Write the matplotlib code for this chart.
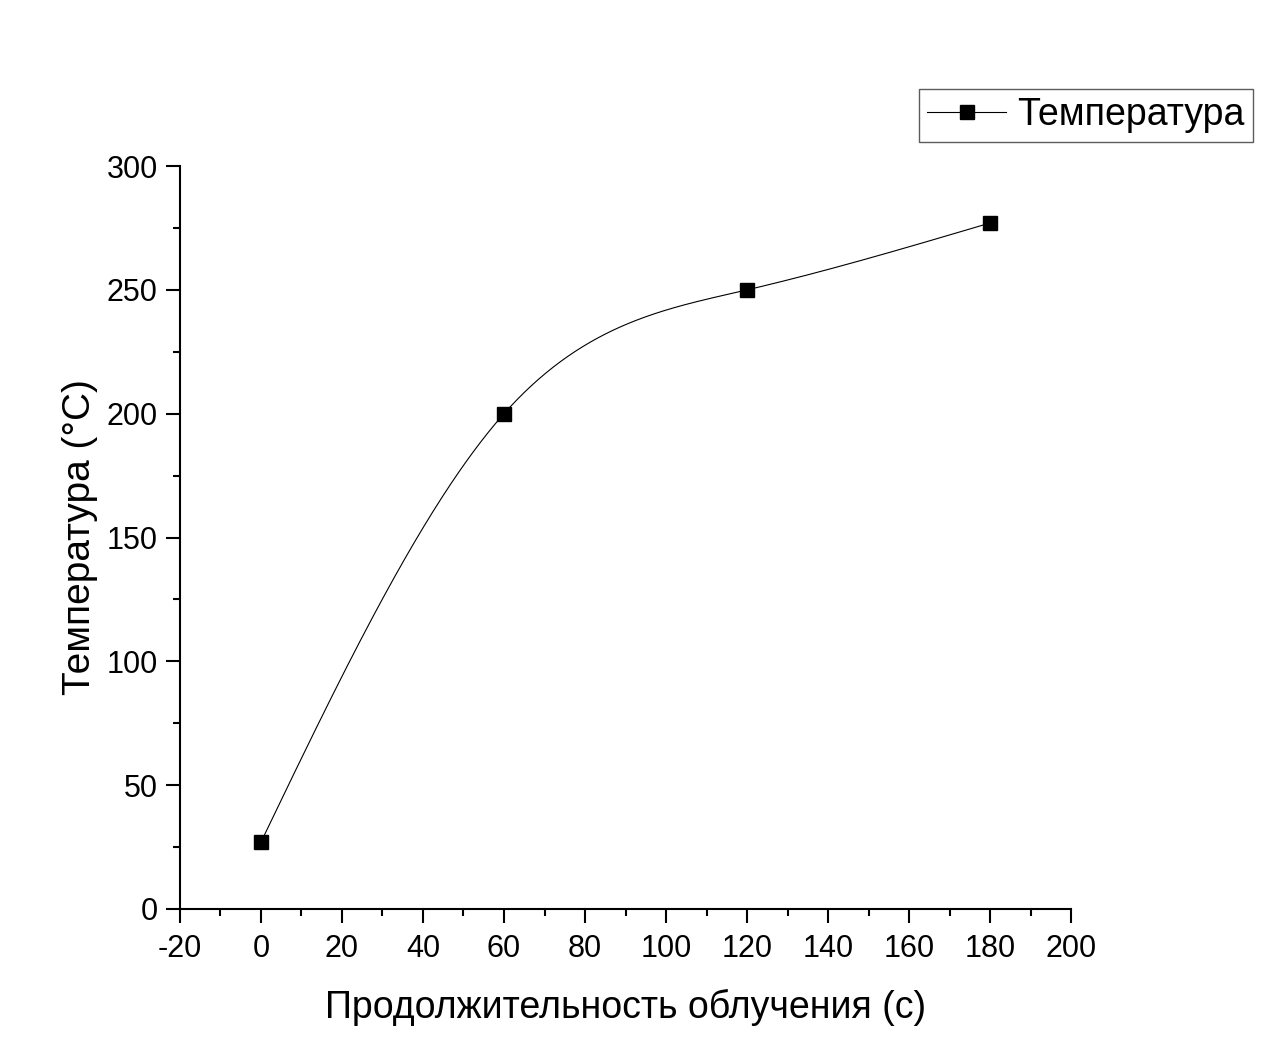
import numpy as np
import matplotlib
matplotlib.use("Agg")
import matplotlib.pyplot as plt
from matplotlib.ticker import MultipleLocator

plt.rcParams['font.family'] = ['Liberation Sans', 'DejaVu Sans']
plt.rcParams['axes.unicode_minus'] = False

# Data
time_s = [0, 60, 120, 180]
temperature = [27, 200, 250, 277]
series_label = "Температура"
xlabel = "Продолжительность облучения (с)"
ylabel = "Температура (°С)"


def natural_spline(x, y, xs):
    x = np.asarray(x, float); y = np.asarray(y, float)
    n = len(x)
    h = np.diff(x)
    A = np.zeros((n, n)); b = np.zeros(n)
    A[0, 0] = 1; A[-1, -1] = 1
    for i in range(1, n - 1):
        A[i, i - 1] = h[i - 1]
        A[i, i] = 2 * (h[i - 1] + h[i])
        A[i, i + 1] = h[i]
        b[i] = 3 * ((y[i + 1] - y[i]) / h[i] - (y[i] - y[i - 1]) / h[i - 1])
    c = np.linalg.solve(A, b)
    out = np.empty_like(xs)
    for k, xv in enumerate(xs):
        i = min(max(np.searchsorted(x, xv) - 1, 0), n - 2)
        dx = xv - x[i]
        bi = (y[i + 1] - y[i]) / h[i] - h[i] * (2 * c[i] + c[i + 1]) / 3
        di = (c[i + 1] - c[i]) / (3 * h[i])
        out[k] = y[i] + bi * dx + c[i] * dx ** 2 + di * dx ** 3
    return out


fig = plt.figure(figsize=(12.72, 10.63), dpi=100)
ax = fig.add_axes([0.1415, 0.1449, 0.7005, 0.6989])

xs = np.linspace(min(time_s), max(time_s), 400)
ys = natural_spline(time_s, temperature, xs)
ax.plot(xs, ys, color='black', lw=0.8, zorder=2)
ax.plot(time_s, temperature, linestyle='none', marker='s', markersize=10,
        color='black', zorder=3)

legend_handle, = ax.plot([], [], color='black', lw=0.8, marker='s',
                         markersize=10, label=series_label)

ax.set_xlim(-20, 200)
ax.set_ylim(0, 300)
ax.xaxis.set_major_locator(MultipleLocator(20))
ax.xaxis.set_minor_locator(MultipleLocator(10))
ax.yaxis.set_major_locator(MultipleLocator(50))
ax.yaxis.set_minor_locator(MultipleLocator(25))

for s in ['top', 'right']:
    ax.spines[s].set_visible(False)
for s in ['left', 'bottom']:
    ax.spines[s].set_linewidth(1.5)

ax.tick_params(which='major', direction='out', length=10, width=1.5,
               labelsize=22, pad=6)
ax.tick_params(axis='x', which='major', pad=8)
ax.tick_params(which='minor', direction='out', length=5, width=1.5)

ax.set_xlabel(xlabel, fontsize=27, labelpad=18)
ax.set_ylabel(ylabel, fontsize=28, labelpad=6)

leg = fig.legend(handles=[legend_handle], loc='upper left',
                 bbox_to_anchor=(919 / 1272, 1 - 89 / 1063),
                 fontsize=27, frameon=True, fancybox=False,
                 handlelength=2.1, handletextpad=0.3, borderpad=0.22,
                 borderaxespad=0)
leg.get_frame().set_edgecolor('#333333')
leg.get_frame().set_linewidth(1.0)

fig.savefig("out.png", dpi=100, facecolor='white')
